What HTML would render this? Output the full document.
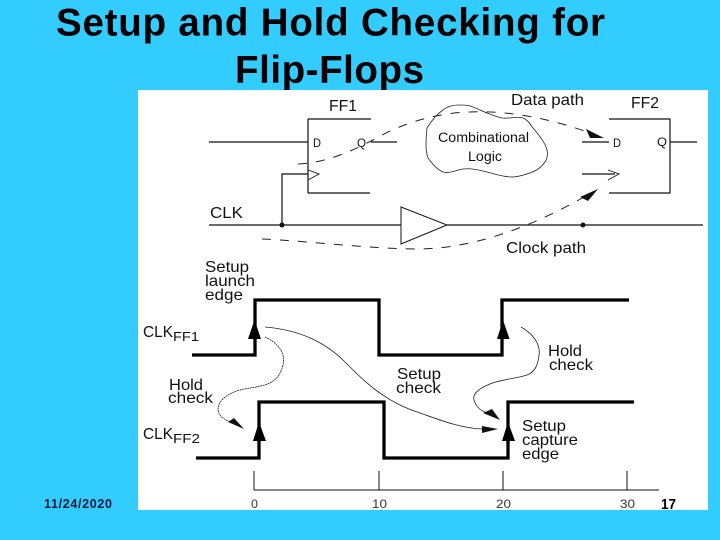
<!DOCTYPE html>
<html><head><meta charset="utf-8"><style>
html,body{margin:0;padding:0;width:720px;height:540px;overflow:hidden;background:#33ccff}
svg{display:block;position:absolute;left:0;top:0}
text{font-family:"Liberation Sans",Arial,sans-serif;fill:#111}
</style></head><body>
<svg width="720" height="540" viewBox="0 0 720 540" xmlns="http://www.w3.org/2000/svg">
<rect width="720" height="540" fill="#33ccff"/>
<text x="56" y="35.500" font-size="38.500" font-weight="700" style="fill:#000" textLength="549">Setup and Hold Checking for</text>
<text x="235" y="83" font-size="38.500" font-weight="700" style="fill:#000" textLength="189">Flip-Flops</text>
<text x="44" y="508" font-size="12.500" font-weight="700" style="fill:#0a1a3a" textLength="68">11/24/2020</text>
<rect x="138" y="90" width="570" height="420" fill="#fff"/>

<g fill="none" stroke="#111" stroke-width="1.2">
<path d="M209 142H308M308 119V193M308 119H371M308 193H370M371 142H397"/>
<path d="M282 225V174H308M209 225H401M447 225H703"/>
<path d="M308 170L319 174L308 180" stroke-width="0.9"/>
<path d="M401 207V244L447 225Z" stroke-width="1"/>
<path d="M582 142H609M609 119H670V193H609M670 142H697M582 174H615"/>
<path d="M608 170L619 174L608 180" stroke-width="0.9"/>
</g>
<circle cx="282" cy="225" r="2.500" fill="#111"/>
<circle cx="583" cy="225" r="2.500" fill="#111"/>

<path d="M427 128C432 120 437 114 443 110C448 106 453 105 458 105C464 105 469 105 473 107C478 109 482 111 487 113C492 115 497 117 502 118C509 119 517 116 523 118C528 120 530 124 533 128C538 134 545 142 547 150C548 155 547 159 545 162C541 168 536 171 530 173C524 175 518 177 512 177C503 177 495 174 487 172C479 170 471 168 463 169C456 170 449 174 443 172C436 169 432 163 428 158C425 150 426 138 427 128Z" fill="#fff" stroke="#222" stroke-width="0.8"/>

<g fill="none" stroke="#222" stroke-width="1" stroke-dasharray="9 9">
<path d="M298 164C325 163 350 152 373 140C395 127 430 113 470 112C510 110 555 120 590 133"/>
<path d="M262 239C310 241 370 249 420 249C480 248 540 222 584 197"/>
</g>
<path d="M604 138L586 129L590 138Z" fill="#111"/>
<path d="M598 189L580 197L588 201Z" fill="#111"/>

<g fill="none" stroke="#000" stroke-width="3.300" stroke-linejoin="miter">
<path d="M192 355H255V300H379V355H502V300H629"/>
<path d="M196 458H259V402H384V458H508V402H634"/>
</g>
<g fill="#000">
<path d="M254.500 320L261 339H248Z"/>
<path d="M259 422L266 441H253Z"/>
<path d="M503 320L509.500 339H497Z"/>
<path d="M508 422L515 441H502Z"/>
</g>

<g fill="none" stroke="#222" stroke-width="0.8">
<path d="M265 337C278 343 286 353 283 365C280 376 276 381 265 385C250 389 240 388 230 394C220 399 215 408 220 415C222 418 226 420 230 422" stroke-dasharray="2 0.6"/>
<path d="M265 327C300 330 325 342 345 362C365 382 385 402 420 413C440 420 460 428 482 429"/>
<path d="M521 327C532 333 541 344 539 355C538 365 535 372 527 375C515 379 502 379 490 384C480 388 472 393 474 400C476 407 480 410 485 412"/>
</g>
<path d="M244 429L228 422L234 418Z" fill="#111"/>
<path d="M500 420L483 413L492 409Z" fill="#111"/>
<path d="M498 429L482 426L482 433Z" fill="#111"/>

<g fill="none" stroke="#111" stroke-width="1">
<path d="M254 490H659M254 471V490M379 471V490M503 471V490M627 471V490"/>
</g>

<g font-size="16">
<text x="329" y="111" textLength="28" lengthAdjust="spacingAndGlyphs">FF1</text>
<text x="631" y="108" textLength="28" lengthAdjust="spacingAndGlyphs">FF2</text>
<text x="511" y="105" textLength="73" lengthAdjust="spacingAndGlyphs">Data path</text>
<text x="210" y="218" textLength="33" lengthAdjust="spacingAndGlyphs">CLK</text>
<text x="506" y="253" textLength="80" lengthAdjust="spacingAndGlyphs">Clock path</text>
<text x="205" y="272" textLength="44" lengthAdjust="spacingAndGlyphs">Setup</text>
<text x="205" y="286" textLength="50" lengthAdjust="spacingAndGlyphs">launch</text>
<text x="205" y="300" textLength="38" lengthAdjust="spacingAndGlyphs">edge</text>
<text x="143" y="337" textLength="30" lengthAdjust="spacingAndGlyphs">CLK</text>
<text x="173" y="341" font-size="13" textLength="26" lengthAdjust="spacingAndGlyphs">FF1</text>
<text x="169" y="390" textLength="34" lengthAdjust="spacingAndGlyphs">Hold</text>
<text x="168" y="403" textLength="45" lengthAdjust="spacingAndGlyphs">check</text>
<text x="143" y="439" textLength="30" lengthAdjust="spacingAndGlyphs">CLK</text>
<text x="173" y="443" font-size="13" textLength="27" lengthAdjust="spacingAndGlyphs">FF2</text>
<text x="397" y="379" textLength="44" lengthAdjust="spacingAndGlyphs">Setup</text>
<text x="396" y="393" textLength="45" lengthAdjust="spacingAndGlyphs">check</text>
<text x="548" y="356" textLength="34" lengthAdjust="spacingAndGlyphs">Hold</text>
<text x="549" y="370" textLength="44" lengthAdjust="spacingAndGlyphs">check</text>
<text x="522" y="431" textLength="44" lengthAdjust="spacingAndGlyphs">Setup</text>
<text x="522" y="445" textLength="56" lengthAdjust="spacingAndGlyphs">capture</text>
<text x="522" y="459" textLength="37" lengthAdjust="spacingAndGlyphs">edge</text>
</g>
<g font-size="12">
<text x="313" y="147" textLength="8" lengthAdjust="spacingAndGlyphs">D</text>
<text x="357" y="147" textLength="9" lengthAdjust="spacingAndGlyphs">Q</text>
<text x="613" y="147" textLength="8" lengthAdjust="spacingAndGlyphs">D</text>
<text x="657" y="146" textLength="10" lengthAdjust="spacingAndGlyphs">Q</text>
<text x="438" y="142" font-size="13.500" textLength="91" lengthAdjust="spacingAndGlyphs">Combinational</text>
<text x="468" y="161" font-size="13.500" textLength="34" lengthAdjust="spacingAndGlyphs">Logic</text>
</g>
<g font-size="11.500">
<text x="251" y="508" textLength="7" lengthAdjust="spacingAndGlyphs" style="fill:#333">0</text>
<text x="372" y="508" textLength="15" lengthAdjust="spacingAndGlyphs" style="fill:#333">10</text>
<text x="496" y="508" textLength="15" lengthAdjust="spacingAndGlyphs" style="fill:#333">20</text>
<text x="620" y="508" textLength="15" lengthAdjust="spacingAndGlyphs" style="fill:#333">30</text>
</g>
<text x="661" y="509" font-size="15" font-weight="700" style="fill:#000" textLength="15" lengthAdjust="spacingAndGlyphs">17</text>
</svg>
</body></html>
